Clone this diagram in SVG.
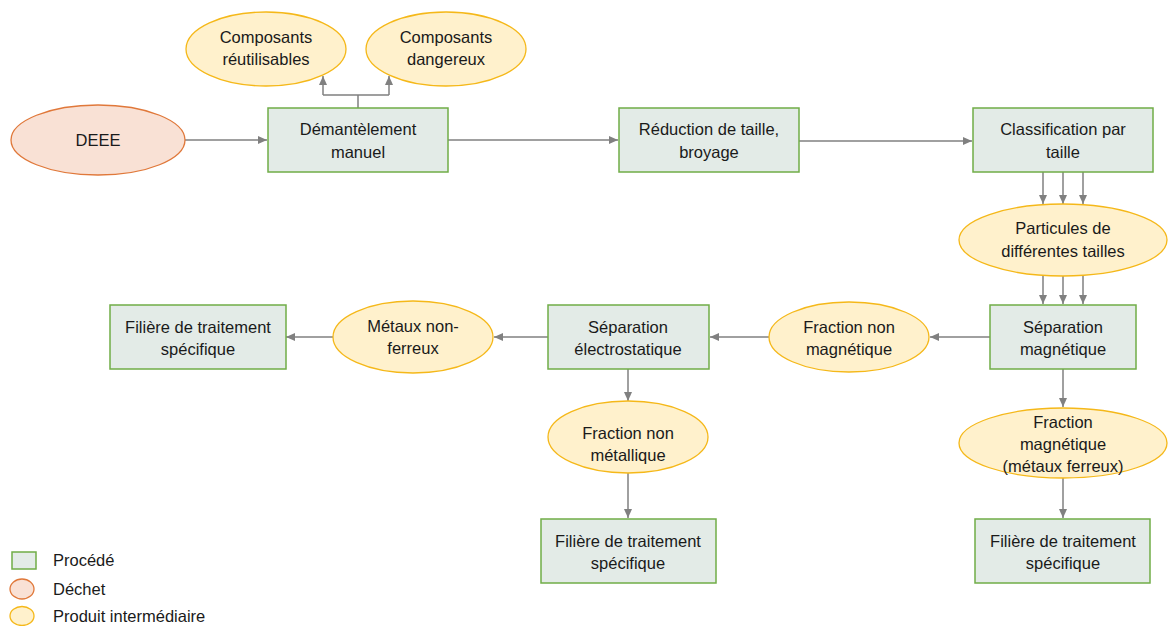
<svg xmlns="http://www.w3.org/2000/svg" width="1169" height="626" viewBox="0 0 1169 626">
<style>
.proc{fill:#E3EBE7;stroke:#70AD47;stroke-width:1.5}
.waste{fill:#F9E1D5;stroke:#E0783A;stroke-width:1.3}
.inter{fill:#FFF1CC;stroke:#F5B819;stroke-width:1.3}
text{font-family:"Liberation Sans",Arial,sans-serif;font-size:16.5px;fill:#1a1a1a;text-anchor:middle}
.leg{text-anchor:start}
.conn path{fill:none;stroke:#808080;stroke-width:1.5}
</style>
<defs>
<marker id="ah" markerUnits="userSpaceOnUse" markerWidth="10" markerHeight="10" viewBox="0 0 10 10" refX="9" refY="5" orient="auto">
<path d="M0,1 L9,5 L0,9 Z" fill="#808080"/>
</marker>
</defs>
<g class="conn">
<path d="M185 140 H267" marker-end="url(#ah)"/>
<path d="M448 140 H618" marker-end="url(#ah)"/>
<path d="M799 141 H972" marker-end="url(#ah)"/>
<path d="M358 108 V95 M323 95 H389"/>
<path d="M323 95 V76" marker-end="url(#ah)"/>
<path d="M389 95 V76" marker-end="url(#ah)"/>
<path d="M1043 172 V204" marker-end="url(#ah)"/>
<path d="M1063 172 V204" marker-end="url(#ah)"/>
<path d="M1083 172 V204" marker-end="url(#ah)"/>
<path d="M1043 276 V304" marker-end="url(#ah)"/>
<path d="M1063 276 V304" marker-end="url(#ah)"/>
<path d="M1083 276 V304" marker-end="url(#ah)"/>
<path d="M990 337 H930" marker-end="url(#ah)"/>
<path d="M769 337 H710" marker-end="url(#ah)"/>
<path d="M548 337 H494" marker-end="url(#ah)"/>
<path d="M333 337 H286" marker-end="url(#ah)"/>
<path d="M628 369 V401" marker-end="url(#ah)"/>
<path d="M628 473 V518" marker-end="url(#ah)"/>
<path d="M1063 369 V407" marker-end="url(#ah)"/>
<path d="M1063 478 V518" marker-end="url(#ah)"/>
</g>
<g id="deee"><ellipse class="waste" cx="98" cy="140" rx="87" ry="35"/><text x="98" y="146">DEEE</text></g>
<g id="comp-reut"><ellipse class="inter" cx="266" cy="49" rx="80" ry="37"/><text x="266" y="43">Composants</text><text x="266" y="65">réutilisables</text></g>
<g id="comp-dang"><ellipse class="inter" cx="446" cy="49" rx="80" ry="37"/><text x="446" y="43">Composants</text><text x="446" y="65">dangereux</text></g>
<g id="demantelement"><rect class="proc" x="268" y="108" width="180" height="64"/><text x="358" y="135">Démantèlement</text><text x="358" y="158">manuel</text></g>
<g id="reduction"><rect class="proc" x="619" y="108" width="180" height="64"/><text x="709" y="135">Réduction de taille,</text><text x="709" y="158">broyage</text></g>
<g id="classification"><rect class="proc" x="973" y="108" width="180" height="64"/><text x="1063" y="135">Classification par</text><text x="1063" y="158">taille</text></g>
<g id="particules"><ellipse class="inter" cx="1063" cy="240" rx="104" ry="36"/><text x="1063" y="234">Particules de</text><text x="1063" y="257">différentes tailles</text></g>
<g id="sep-magn"><rect class="proc" x="990" y="305" width="146" height="64"/><text x="1063" y="333">Séparation</text><text x="1063" y="355">magnétique</text></g>
<g id="frac-non-magn"><ellipse class="inter" cx="849" cy="337" rx="80" ry="35"/><text x="849" y="333">Fraction non</text><text x="849" y="355">magnétique</text></g>
<g id="sep-electro"><rect class="proc" x="548" y="305" width="161" height="64"/><text x="628" y="333">Séparation</text><text x="628" y="355">électrostatique</text></g>
<g id="metaux"><ellipse class="inter" cx="413" cy="337" rx="80" ry="36"/><text x="413" y="332">Métaux non-</text><text x="413" y="354">ferreux</text></g>
<g id="filiere-left"><rect class="proc" x="110" y="305" width="176" height="64"/><text x="198" y="333">Filière de traitement</text><text x="198" y="355">spécifique</text></g>
<g id="frac-non-metal"><ellipse class="inter" cx="628" cy="437" rx="80" ry="36"/><text x="628" y="439">Fraction non</text><text x="628" y="461">métallique</text></g>
<g id="filiere-mid"><rect class="proc" x="541" y="519" width="175" height="64"/><text x="628" y="547">Filière de traitement</text><text x="628" y="569">spécifique</text></g>
<g id="frac-magn"><ellipse class="inter" cx="1063" cy="443" rx="104" ry="35"/><text x="1063" y="428">Fraction</text><text x="1063" y="450">magnétique</text><text x="1063" y="472">(métaux ferreux)</text></g>
<g id="filiere-right"><rect class="proc" x="975" y="519" width="175" height="64"/><text x="1063" y="547">Filière de traitement</text><text x="1063" y="569">spécifique</text></g>
<g id="legend">
<rect class="proc" x="12" y="552" width="24" height="17"/><text class="leg" x="53" y="566">Procédé</text>
<ellipse class="waste" cx="22" cy="589" rx="12" ry="10"/><text class="leg" x="53" y="595">Déchet</text>
<ellipse class="inter" cx="22" cy="616" rx="12" ry="9.5"/><text class="leg" x="53" y="622">Produit intermédiaire</text>
</g>
</svg>
